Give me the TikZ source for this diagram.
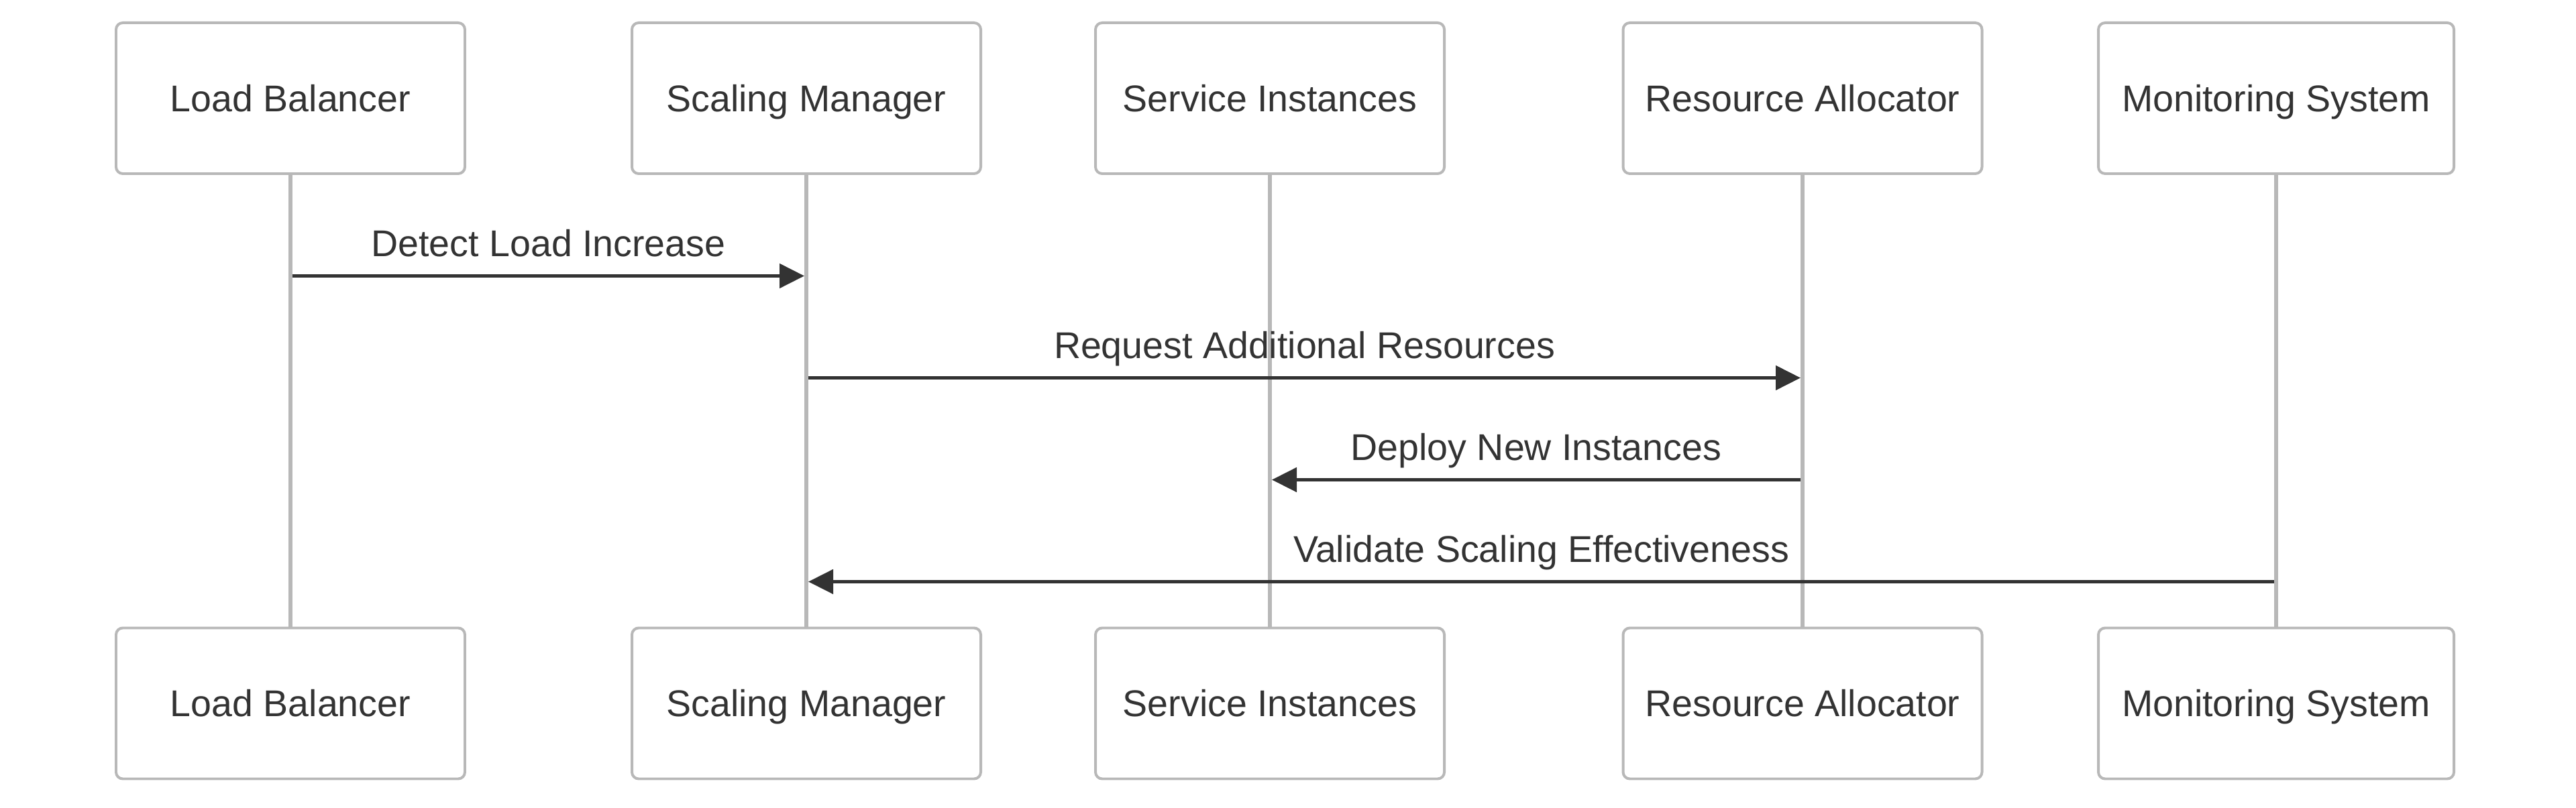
\documentclass[tikz,border=0pt]{standalone}
\usepackage{fontspec}
\setmainfont{Liberation Sans}
\usetikzlibrary{arrows.meta}
\definecolor{boxgray}{HTML}{B8B8B8}
\definecolor{ink}{HTML}{333333}
\tikzset{
  actor/.style={draw=boxgray,line width=1.13pt,fill=white,rounded corners=0.1cm,
    minimum width=5.2cm,minimum height=2.25cm,inner sep=0pt,text=ink,
    text height=0.40cm,text depth=0pt,font=\fontsize{15.8}{19}\selectfont},
  lifeline/.style={draw=boxgray,line width=1.85pt},
  msg/.style={draw=ink,line width=1.4pt,shorten <=0.03cm,shorten >=0.03cm,
    -{Triangle[length=0.37cm,width=0.36cm]}},
  msglabel/.style={anchor=base,yshift=0.29cm,inner sep=0pt,text=ink,
    font=\fontsize{15.8}{19}\selectfont}
}
\begin{document}
\begin{tikzpicture}
    \useasboundingbox (0,0) rectangle (38.4,-12.05);
    % message rows
    \coordinate (m1) at (0,-4.115);
    \coordinate (m2) at (0,-5.635);
    \coordinate (m3) at (0,-7.155);
    \coordinate (m4) at (0,-8.675);
    % actors on top
    \node[actor] (lbT) at (4.33,-1.465) {Load Balancer};
    \node[actor] (smT) at (12.02,-1.465) {Scaling Manager};
    \node[actor] (siT) at (18.93,-1.465) {Service Instances};
    \node[actor,minimum width=5.35cm] (raT) at (26.87,-1.465) {Resource Allocator};
    \node[actor,minimum width=5.3cm] (msT) at (33.93,-1.465) {Monitoring System};
    % actors at the bottom
    \node[actor] (lbB) at (4.33,-10.49) {Load Balancer};
    \node[actor] (smB) at (12.02,-10.49) {Scaling Manager};
    \node[actor] (siB) at (18.93,-10.49) {Service Instances};
    \node[actor,minimum width=5.35cm] (raB) at (26.87,-10.49) {Resource Allocator};
    \node[actor,minimum width=5.3cm] (msB) at (33.93,-10.49) {Monitoring System};
    % lifelines
    \draw[lifeline] (lbT) -- (lbB);
    \draw[lifeline] (smT) -- (smB);
    \draw[lifeline] (siT) -- (siB);
    \draw[lifeline] (raT) -- (raB);
    \draw[lifeline] (msT) -- (msB);
    % messages
    \draw[msg] (lbT |- m1) -- (smT |- m1) node[msglabel,midway] {Detect Load Increase};
    \draw[msg] (smT |- m2) -- (raT |- m2) node[msglabel,midway] {Request Additional Resources};
    \draw[msg] (raT |- m3) -- (siT |- m3) node[msglabel,midway] {Deploy New Instances};
    \draw[msg] (msT |- m4) -- (smT |- m4) node[msglabel,midway] {Validate Scaling Effectiveness};
\end{tikzpicture}
\end{document}
